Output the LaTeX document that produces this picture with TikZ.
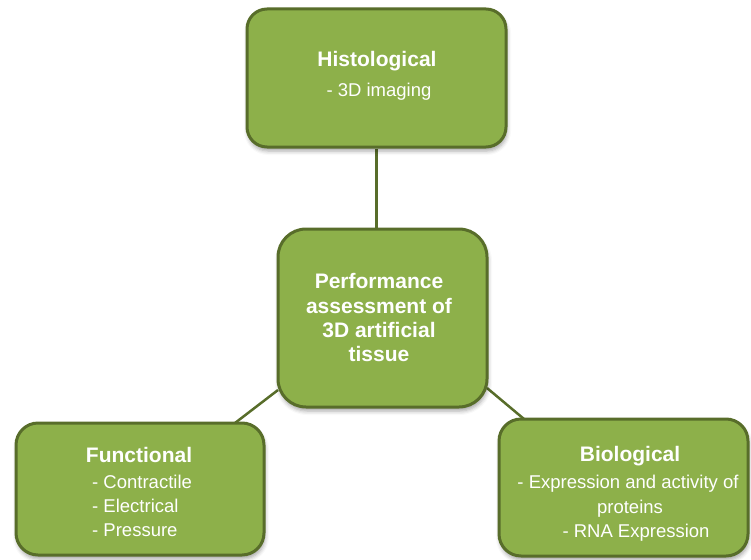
\documentclass[tikz,border=0pt]{standalone}
\usepackage{fontspec}
\setmainfont{Liberation Sans}
\usetikzlibrary{backgrounds,shadows.blur}

\definecolor{boxfill}{RGB}{141,176,74}
\definecolor{boxedge}{RGB}{88,109,42}

\tikzset{
  greenbox/.style={draw=boxedge, line width=3pt, fill=boxfill, rounded corners=#1,
    inner sep=0pt, minimum width=0pt, minimum height=0pt,
    blur shadow={shadow xshift=1pt, shadow yshift=-4pt, shadow blur radius=4pt, shadow opacity=35}},
  title/.style={text=white, inner sep=0pt, font=\fontsize{21}{24}\selectfont\bfseries, anchor=base},
  item/.style={text=white, inner sep=0pt, font=\fontsize{18.5}{22}\selectfont, anchor=base},
  link/.style={draw=boxedge, line width=2.5pt}
}

\begin{document}
\begin{tikzpicture}[x=1pt,y=-1pt]
  \useasboundingbox (0,0) rectangle (751,559);

  % boxes
  \node[greenbox=20pt, minimum width=259pt, minimum height=138pt] (hist) at (376.5,78) {};
  \node[greenbox=28pt, minimum width=209pt, minimum height=178pt] (perf) at (382.5,318) {};
  \node[greenbox=22pt, minimum width=248pt, minimum height=132pt] (func) at (140,489) {};
  \node[greenbox=22pt, minimum width=249pt, minimum height=137pt] (bio) at (623.5,487.5) {};

  % connector end points on the box borders
  \coordinate (perfL) at (278,390);
  \coordinate (funcT) at (235,423);
  \coordinate (perfR) at (487,388);
  \coordinate (bioT) at (524,419);

  \begin{pgfonlayer}{background}
    \draw[link] (hist.south) -- (hist.south |- perf.north);
    \draw[link] (perfL) -- (funcT);
    \draw[link] (perfR) -- (bioT);
  \end{pgfonlayer}

  % Histological
  \node[title] (histT) at (377,67) {Histological};
  \node[item] (hist1) at (379,96) {- 3D imaging};

  % central box
  \node[title] (perf1) at (379,288) {Performance};
  \node[title] (perf2) at (379,313) {assessment of};
  \node[title] (perf3) at (379,337) {3D artificial};
  \node[title] (perf4) at (379,361) {tissue};

  % Functional
  \node[title] (funcTitle) at (139,462) {Functional};
  \node[item, anchor=base west] (func1) at (92,488) {- Contractile};
  \node[item, anchor=base west] (func2) at (92,512) {- Electrical};
  \node[item, anchor=base west] (func3) at (92,536) {- Pressure};

  % Biological
  \node[title] (bioTitle) at (630,461) {Biological};
  \node[item] (bio1) at (628,488) {- Expression and activity of};
  \node[item] (bio2) at (630,513) {proteins};
  \node[item] (bio3) at (636,537) {- RNA Expression};
\end{tikzpicture}
\end{document}
